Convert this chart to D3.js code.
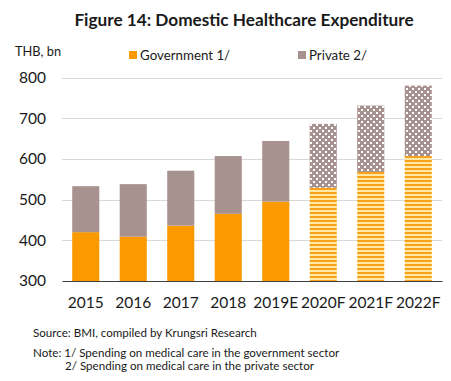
<!DOCTYPE html>
<html>
<head>
<meta charset="utf-8">
<script src="https://cdn.jsdelivr.net/npm/d3@7"></script>
<style>
  body { margin: 0; background: #fff; }
  svg { display: block; font-family: Lato, "Open Sans", sans-serif; }
</style>
</head>
<body>
<div id="chart"></div>
<script>
// data
var years = ["2015", "2016", "2017", "2018", "2019E", "2020F", "2021F", "2022F"];
var government = [420, 409, 436, 465, 495, 529, 568, 607];
var privateSec = [113, 129, 135, 142, 149, 157, 163, 173];
var forecast = [false, false, false, false, false, true, true, true];
var yTicks = [300, 400, 500, 600, 700, 800];

var w = 451, h = 381;
var margin = {left: 62, right: 9, top: 77.5, bottom: 100};

var svg = d3.select("#chart").append("svg")
    .attr("width", w)
    .attr("height", h);

var defs = svg.append("defs");

// dotted pattern for private forecast
var dots = defs.append("pattern")
    .attr("id", "dots")
    .attr("patternUnits", "userSpaceOnUse")
    .attr("width", 6).attr("height", 6);
dots.append("rect").attr("width", 6).attr("height", 6).attr("fill", "#a8928f");
dots.append("rect").attr("x", 1).attr("y", 1).attr("width", 2).attr("height", 2).attr("fill", "#fff");
dots.append("rect").attr("x", 4).attr("y", 4).attr("width", 2).attr("height", 2).attr("fill", "#fff");

// striped pattern for government forecast
var stripes = defs.append("pattern")
    .attr("id", "stripes")
    .attr("patternUnits", "userSpaceOnUse")
    .attr("width", 4).attr("height", 4);
stripes.append("rect").attr("width", 4).attr("height", 4).attr("fill", "#ffe9a6");
stripes.append("rect").attr("y", 0).attr("width", 4).attr("height", 2).attr("fill", "#f9a11b");

var x = d3.scaleBand()
    .domain(years)
    .range([margin.left, w - margin.right])
    .paddingInner(0.43)
    .paddingOuter(0.215);

var y = d3.scaleLinear()
    .domain([300, 800])
    .range([h - margin.bottom, margin.top]);

// title
svg.append("text")
    .attr("x", 244).attr("y", 26)
    .attr("text-anchor", "middle")
    .attr("font-weight", "bold")
    .attr("font-size", 17.2)
    .attr("fill", "#1a1a1a")
    .text("Figure 14: Domestic Healthcare Expenditure");

svg.append("text")
    .attr("x", 15).attr("y", 56)
    .attr("font-size", 12.8)
    .attr("fill", "#1a1a1a")
    .text("THB, bn");

// legend
var legend = [
  {label: "Government 1/", color: "#fb9a00", x: 129},
  {label: "Private 2/", color: "#a8928f", x: 298}
];
var lg = svg.selectAll(".lg").data(legend).enter().append("g")
    .attr("transform", function(d) { return "translate(" + d.x + ",51)"; });
lg.append("rect").attr("width", 8).attr("height", 8).attr("fill", function(d) { return d.color; });
lg.append("text")
    .attr("x", 11).attr("y", 9)
    .attr("font-size", 13.3)
    .attr("fill", "#1a1a1a")
    .text(function(d) { return d.label; });

// gridlines
svg.append("g").selectAll("line")
    .data(yTicks.slice(1))
    .enter().append("line")
    .attr("x1", margin.left).attr("x2", w - margin.right)
    .attr("y1", function(d) { return Math.round(y(d)) + 0.5; })
    .attr("y2", function(d) { return Math.round(y(d)) + 0.5; })
    .attr("stroke", "#d9d9d9");

// y axis labels
var yAxis = d3.axisLeft(y).tickValues(yTicks).tickSize(0).tickPadding(16);
var ya = svg.append("g")
    .attr("transform", "translate(" + margin.left + ",0)")
    .call(yAxis);
ya.select(".domain").remove();
ya.selectAll("text").attr("font-size", 15.5).attr("fill", "#1a1a1a").attr("font-family", "Lato, sans-serif");

// bars
var groups = svg.append("g").selectAll("g")
    .data(years)
    .enter().append("g");

groups.append("rect")
    .attr("x", function(d) { return x(d); })
    .attr("width", x.bandwidth())
    .attr("y", function(d, i) { return y(government[i]); })
    .attr("height", function(d, i) { return y(300) - y(government[i]); })
    .attr("fill", function(d, i) { return forecast[i] ? "url(#stripes)" : "#fb9a00"; });

groups.append("rect")
    .attr("x", function(d) { return x(d); })
    .attr("width", x.bandwidth())
    .attr("y", function(d, i) { return y(government[i] + privateSec[i]); })
    .attr("height", function(d, i) { return y(government[i]) - y(government[i] + privateSec[i]); })
    .attr("fill", function(d, i) { return forecast[i] ? "url(#dots)" : "#a8928f"; });

// x axis
var xAxis = d3.axisBottom(x).tickSize(0).tickPadding(16);
var xa = svg.append("g")
    .attr("transform", "translate(0," + y(300) + ")")
    .call(xAxis);
xa.select(".domain").attr("stroke", "#404040").attr("stroke-width", 1.2);
xa.selectAll("text").attr("font-size", 15.5).attr("fill", "#1a1a1a").attr("font-family", "Lato, sans-serif");

// notes
var notes = [
  {t: "Source: BMI, compiled by Krungsri Research", x: 33, y: 337},
  {t: "Note: 1/ Spending on medical care in the government sector", x: 33, y: 357},
  {t: "2/ Spending on medical care in the private sector", x: 65, y: 369.5}
];
svg.selectAll(".note").data(notes).enter().append("text")
    .attr("x", function(d) { return d.x; })
    .attr("y", function(d) { return d.y; })
    .attr("font-size", 11.6)
    .attr("fill", "#1a1a1a")
    .text(function(d) { return d.t; });
</script>
</body>
</html>
